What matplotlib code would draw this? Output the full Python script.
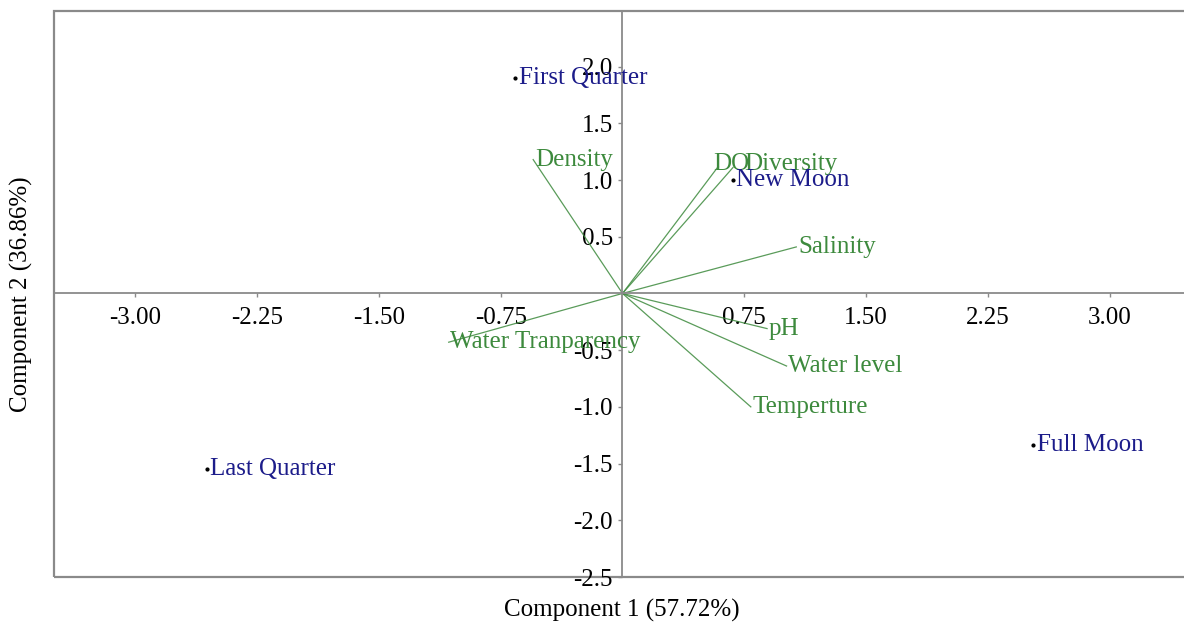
import matplotlib.pyplot as plt
from matplotlib.patches import Rectangle
import numpy as np

plt.rcParams['font.family'] = ['Liberation Serif', 'DejaVu Serif']

# sample scores (lunar phases)
phases = ['First Quarter', 'New Moon', 'Last Quarter', 'Full Moon']
phase_x = [-0.66, 0.68, -2.56, 2.53]
phase_y = [1.90, 1.00, -1.55, -1.34]

# variable loadings
variables = ['Density', 'DO', 'Diversity', 'Salinity', 'pH',
             'Water level', 'Temperture', 'Water Tranparency']
load_x = [-0.55, 0.59, 0.68, 1.07, 0.89, 1.01, 0.79, -1.07]
load_y = [1.18, 1.12, 1.11, 0.41, -0.31, -0.64, -1.00, -0.43]

xticks = [-3.00, -2.25, -1.50, -0.75, 0.75, 1.50, 2.25, 3.00]
yticks = [2.0, 1.5, 1.0, 0.5, -0.5, -1.0, -1.5, -2.0, -2.5]

blue = '#1c1c8a'
green = '#3d8a3d'
grey = '#8a8a8a'

# small label nudges (data units)
nudge = {'DO': (-0.03, 0.02), 'Diversity': (0.07, 0.03)}

fig = plt.figure(figsize=(11.84, 6.25), dpi=100)
W, H = 1184, 625
left, right, top, bottom = 54, 1191, 11, 577
ax = fig.add_axes([left / W, 1 - bottom / H, (right - left) / W, (bottom - top) / H])
ax.set_xlim(-3.5, 3.5)
ax.set_ylim(-2.49, 2.49)

for s in ['top', 'right']:
    ax.spines[s].set_visible(False)
ax.spines['left'].set_position(('data', 0))
ax.spines['bottom'].set_position(('data', 0))
for s in ['left', 'bottom']:
    ax.spines[s].set_color(grey)
    ax.spines[s].set_linewidth(1.3)
ax.add_patch(Rectangle((0, 0), 1, 1, transform=ax.transAxes, fill=False,
                       ec=grey, lw=1.6, clip_on=False))

ax.set_xticks(xticks)
ax.set_xticklabels(['%.2f' % v for v in xticks])
ax.set_yticks(yticks)
ax.set_yticklabels(['%.1f' % v for v in yticks])
ax.tick_params(axis='both', direction='out', length=3, width=1, color=grey,
               labelsize=18)
ax.tick_params(axis='x', pad=7)
ax.tick_params(axis='y', pad=4)

for vx, vy, name in zip(load_x, load_y, variables):
    dx, dy = nudge.get(name, (0.01, 0))
    ax.plot([0, vx], [0, vy], color=green, lw=0.9, alpha=0.85)
    ax.text(vx + dx, vy + dy, name, color=green, fontsize=18,
            ha='left', va='center')

ax.scatter(phase_x, phase_y, s=4, color='black', zorder=3)
for px, py, name in zip(phase_x, phase_y, phases):
    ax.text(px + 0.02, py, name, color=blue, fontsize=18,
            ha='left', va='center')

fig.text(622 / W, 1 - 610 / H, 'Component 1 (57.72%)', fontsize=18,
         ha='center', va='center')
fig.text(21 / W, 1 - 294 / H, 'Component 2 (36.86%)', fontsize=18,
         ha='center', va='center', rotation=90)

fig.savefig('out.png', dpi=100)
